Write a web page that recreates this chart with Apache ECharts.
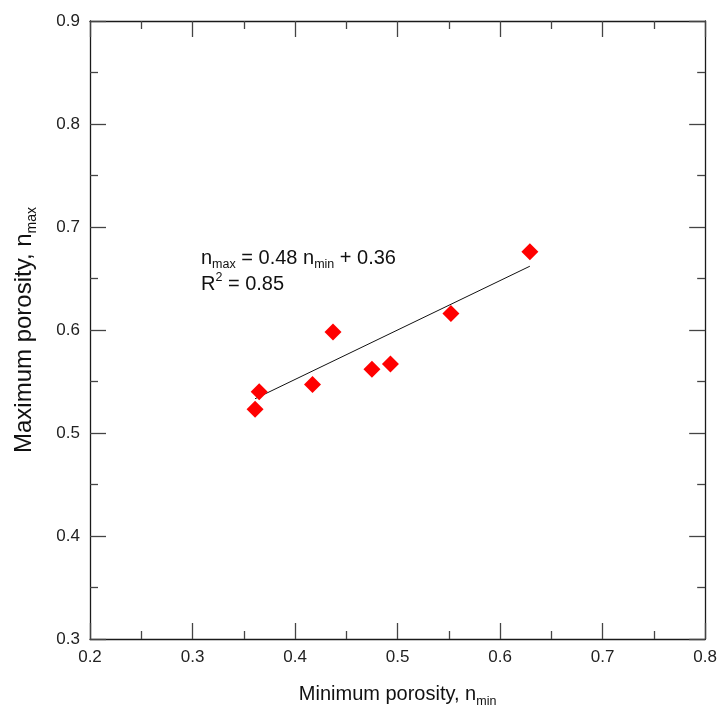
<!DOCTYPE html>
<html>
<head>
<meta charset="utf-8">
<title>Maximum vs minimum porosity</title>
<script src="https://cdn.jsdelivr.net/npm/echarts@6/dist/echarts.min.js"></script>
<style>
  html, body { margin: 0; padding: 0; background: #fff; }
  #chart { width: 720px; height: 713px; }
</style>
</head>
<body>
<div id="chart"></div>
<script>
// Measured porosity pairs
const nMin = [0.361, 0.365, 0.417, 0.437, 0.475, 0.493, 0.552, 0.629];
const nMax = [0.523, 0.540, 0.547, 0.598, 0.562, 0.567, 0.616, 0.676];

// Linear fit reported on the chart
const fitSlope = 0.48;
const fitIntercept = 0.36;
const fitR2 = 0.85;

// Axis ranges and tick spacing
const xRange = [0.2, 0.8];
const yRange = [0.3, 0.9];
const tickStep = 0.1;

const points = nMin.map((x, i) => [x, nMax[i]]);
const xLo = Math.min(...nMin);
const xHi = Math.max(...nMin);
const fitLine = [xLo, xHi].map(x => [x, fitSlope * x + fitIntercept]);

const FONT = '"Liberation Sans", Arial, sans-serif';
const AXIS_COLOR = '#1a1a1a';
const TICK_COLOR = '#444';
const LABEL_SIZE = 17;

function baseAxis(extra) {
  return Object.assign({
    type: 'value',
    interval: tickStep,
    axisLine: { show: true, onZero: false, lineStyle: { color: AXIS_COLOR, width: 1.3 } },
    axisTick: { show: true, inside: true, length: 16, lineStyle: { color: TICK_COLOR, width: 1.3 } },
    minorTick: { show: true, splitNumber: 2, length: 8, lineStyle: { color: TICK_COLOR, width: 1.3 } },
    splitLine: { show: false }
  }, extra);
}

const xTitleRich = {
  t: { fontFamily: FONT, fontSize: 20, color: '#111', lineHeight: 28, verticalAlign: 'middle' },
  s: { fontFamily: FONT, fontSize: 12.5, color: '#111', lineHeight: 28, verticalAlign: 'bottom' }
};
const yTitleRich = {
  t: { fontFamily: FONT, fontSize: 24, color: '#111', lineHeight: 30, verticalAlign: 'middle' },
  s: { fontFamily: FONT, fontSize: 14, color: '#111', lineHeight: 30, verticalAlign: 'bottom' }
};

const chart = echarts.init(document.getElementById('chart'));
chart.setOption({
  backgroundColor: '#ffffff',
  animation: false,
  grid: { left: 90, right: 12, top: 21, bottom: 73, containLabel: false },
  xAxis: [
    baseAxis({
      min: xRange[0], max: xRange[1], position: 'bottom',
      axisLabel: { color: '#222', fontFamily: FONT, fontSize: LABEL_SIZE, margin: 10, formatter: v => v.toFixed(1) },
      name: '{t|Minimum porosity, n}{s|min}',
      nameLocation: 'middle',
      nameGap: 41,
      nameTextStyle: { rich: xTitleRich }
    }),
    baseAxis({
      min: xRange[0], max: xRange[1], position: 'top',
      axisLabel: { show: false }
    })
  ],
  yAxis: [
    baseAxis({
      min: yRange[0], max: yRange[1], position: 'left',
      axisLabel: { color: '#222', fontFamily: FONT, fontSize: LABEL_SIZE, margin: 10, formatter: v => v.toFixed(1) },
      name: '{t|Maximum porosity, n}{s|max}',
      nameLocation: 'middle',
      nameGap: 51,
      nameTextStyle: { rich: yTitleRich }
    }),
    baseAxis({
      min: yRange[0], max: yRange[1], position: 'right',
      axisLabel: { show: false }
    })
  ],
  graphic: [{
    type: 'text',
    left: 201,
    top: 248,
    style: {
      text: '{t|n}{s|max}{t| = ' + fitSlope.toFixed(2) + ' n}{s|min}{t| + ' + fitIntercept.toFixed(2) + '}\n' +
            '{t|R}{p|2}{t| = ' + fitR2.toFixed(2) + '}',
      rich: {
        t: { fontFamily: FONT, fontSize: 20, fill: '#111', lineHeight: 26, verticalAlign: 'middle' },
        s: { fontFamily: FONT, fontSize: 12.5, fill: '#111', lineHeight: 26, verticalAlign: 'bottom' },
        p: { fontFamily: FONT, fontSize: 12.5, fill: '#111', lineHeight: 26, verticalAlign: 'top' }
      }
    }
  }],
  series: [
    {
      name: 'Fit',
      type: 'line',
      data: fitLine,
      symbol: 'none',
      lineStyle: { color: '#111', width: 1 },
      z: 2
    },
    {
      name: 'Data',
      type: 'scatter',
      data: points,
      symbol: 'diamond',
      symbolSize: [17, 17],
      itemStyle: { color: '#ff0000', opacity: 1 },
      z: 3
    }
  ]
});
</script>
</body>
</html>
